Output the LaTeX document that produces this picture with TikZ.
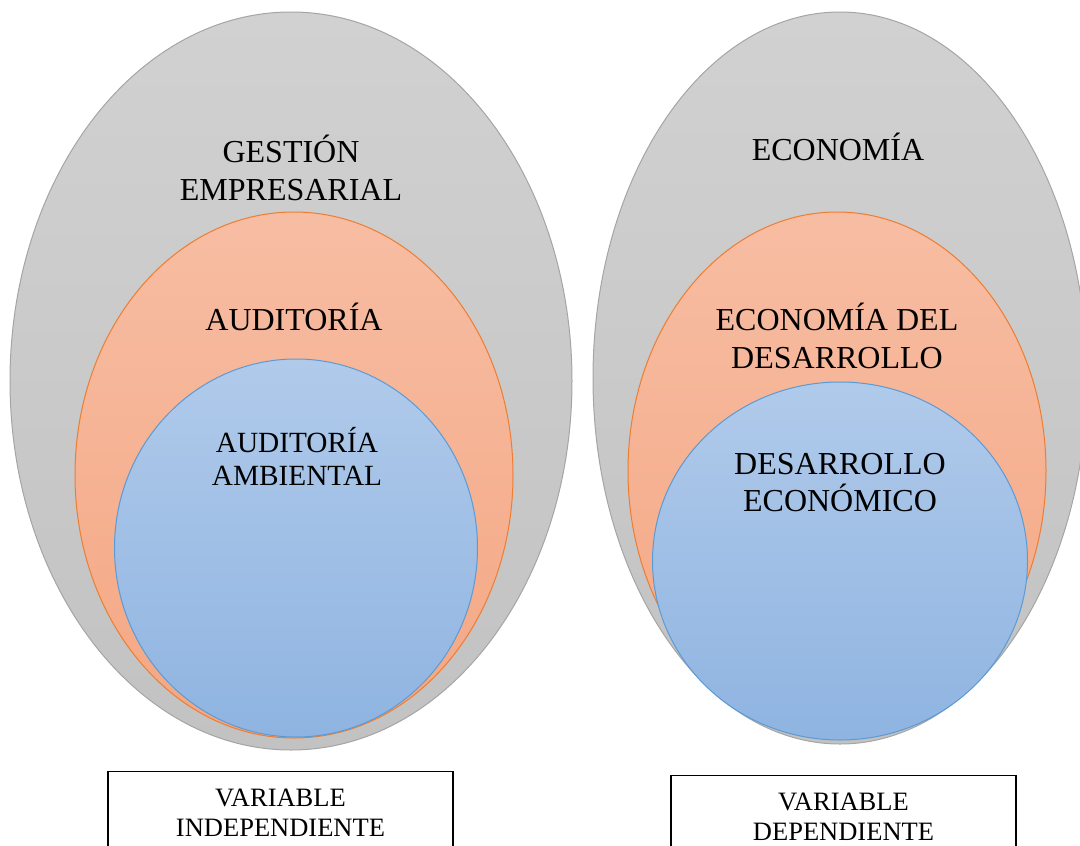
\documentclass[tikz,border=0pt]{standalone}
\usepackage{fontspec}
\setmainfont{Liberation Serif}
\usetikzlibrary{shapes.geometric}

\definecolor{greytop}{HTML}{D1D1D1}
\definecolor{greybot}{HTML}{C2C2C2}
\definecolor{greyline}{HTML}{A5A5A5}
\definecolor{orangetop}{HTML}{F7BDA3}
\definecolor{orangebot}{HTML}{F4A783}
\definecolor{orangeline}{HTML}{ED7D31}
\definecolor{bluetop}{HTML}{B0CAEA}
\definecolor{bluebot}{HTML}{8FB4E1}
\definecolor{blueline}{HTML}{5B9BD5}

\begin{document}
\begin{tikzpicture}[x=1pt, y=-1pt, outer/.style={ellipse, draw=greyline, line width=1pt, top color=greytop, bottom color=greybot, inner sep=0pt, outer sep=0pt},middle/.style={ellipse, draw=orangeline, line width=1pt, top color=orangetop, bottom color=orangebot, inner sep=0pt, outer sep=0pt},inner/.style={ellipse, draw=blueline, line width=1pt, top color=bluetop, bottom color=bluebot, inner sep=0pt, outer sep=0pt},label/.style={align=center, anchor=base, inner sep=0pt, font=\fontsize{32}{38}\selectfont},varbox/.style={rectangle, draw=black, line width=1.2pt, anchor=north, align=center, minimum width=345pt, inner ysep=17pt, font=\fontsize{26.5}{30}\selectfont}]
	\useasboundingbox (0,0) rectangle (1080,846);

	% left ellipses
	\node[outer, minimum width=562pt, minimum height=738pt] (gestion) at (291,381) {};
	\node[middle, minimum width=438pt, minimum height=526pt] (auditoria) at (294,475) {};
	\node[inner, minimum width=363pt, minimum height=378pt] (ambiental) at (296,548) {};

	% right ellipses
	\node[outer, minimum width=494pt, minimum height=732pt] (economia) at (840,378) {};
	\node[middle, minimum width=418pt, minimum height=518pt] (ecodes) at (837,471) {};
	\node[inner, minimum width=375pt, minimum height=358pt] (desarrollo) at (840,561) {};

	% labels (base = last line)
	\node[label] (gestiontxt) at (291,200) {GESTIÓN\\EMPRESARIAL};
	\node[label] (auditoriatxt) at (294,330) {AUDITORÍA};
	\node[label, font=\fontsize{29.3}{33}\selectfont] (ambientaltxt) at (297,485) {AUDITORÍA\\AMBIENTAL};
	\node[label] (economiatxt) at (838,160) {ECONOMÍA};
	\node[label] (ecodestxt) at (837,368) {ECONOMÍA DEL\\DESARROLLO};
	\node[label, font=\fontsize{32}{37}\selectfont] (desarrollotxt) at (840,511) {DESARROLLO\\ECONÓMICO};

	% boxes
	\node[varbox] (indep) at (280.5,771) {VARIABLE\\INDEPENDIENTE};
	\node[varbox] (dep) at (843.5,775) {VARIABLE\\DEPENDIENTE};
\end{tikzpicture}
\end{document}
